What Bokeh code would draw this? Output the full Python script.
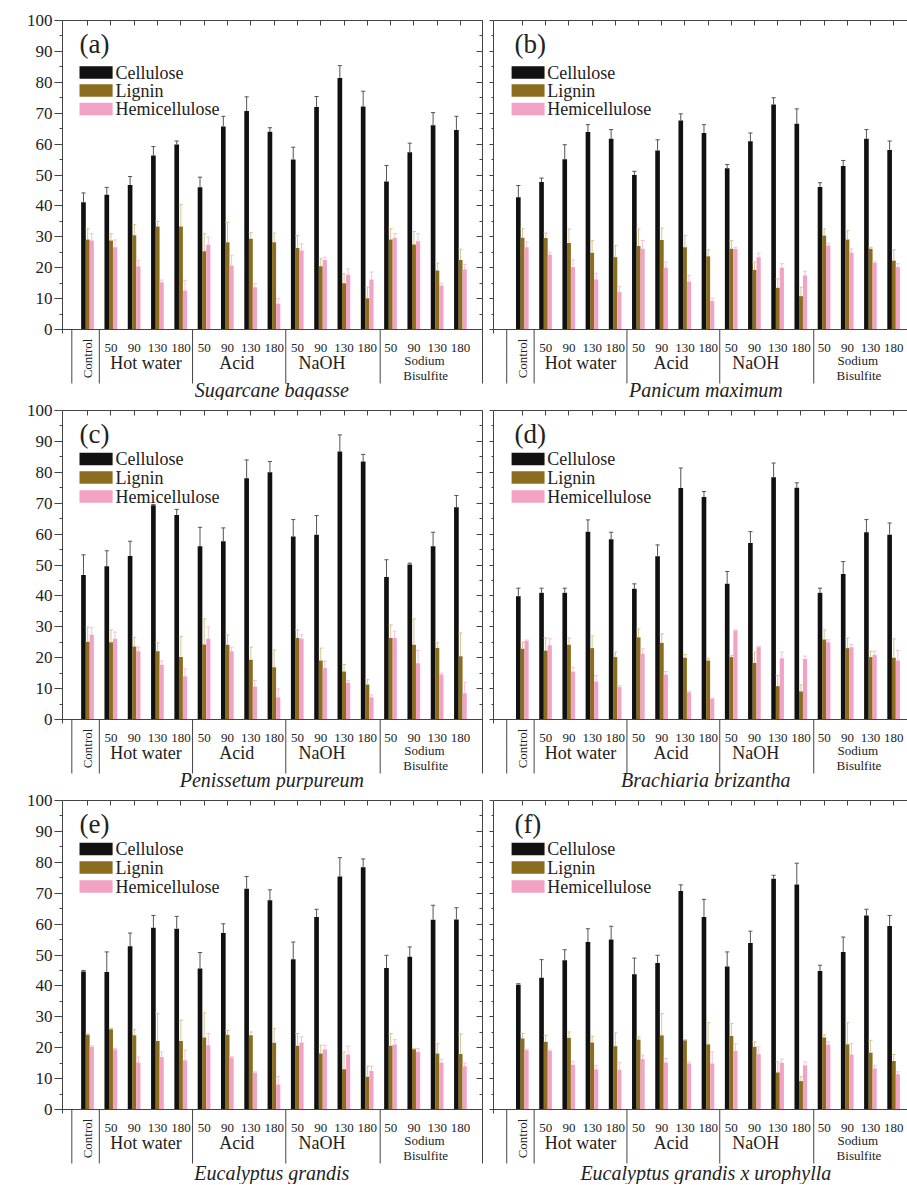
from math import pi
from bokeh.plotting import figure
from bokeh.layouts import gridplot
from bokeh.models import Range1d, LinearAxis, FixedTicker, Label, ColumnDataSource
from bokeh.transform import dodge
from bokeh.embed import file_html
from bokeh.resources import INLINE

# ---------------- data ----------------
GROUP_INDEX = list(range(17))
TEMPS = ["", "50", "90", "130", "180", "50", "90", "130", "180",
         "50", "90", "130", "180", "50", "90", "130", "180"]
TREATMENTS = ["Hot water", "Acid", "NaOH"]
TREATMENT_POS = [2.5, 6.4, 10.05]
SULFITE_LINES = ["Sodium", "Bisulfite"]
COMPONENTS = ["Cellulose", "Lignin", "Hemicellulose"]
SPECIES = ["Sugarcane bagasse", "Panicum maximum", "Penissetum purpureum",
           "Brachiaria brizantha", "Eucalyptus grandis", "Eucalyptus grandis x urophylla"]
TAGS = ["(a)", "(b)", "(c)", "(d)", "(e)", "(f)"]
Y_TICKS = list(range(0, 101, 10))
Y_MINOR = list(range(5, 100, 10))

# (a) Sugarcane bagasse
A_CELL = [41.2, 43.6, 46.8, 56.3, 59.9, 46.0, 65.7, 70.7, 64.0, 55.0, 72.0, 81.4, 72.2, 47.9, 57.4, 66.1, 64.6]
A_CELL_ERR = [3.0, 2.4, 2.7, 2.9, 1.1, 3.3, 3.3, 4.6, 1.3, 4.0, 3.4, 4.0, 4.9, 5.2, 2.9, 4.1, 4.4]
A_LIG = [29.1, 28.8, 30.5, 33.3, 33.3, 25.3, 28.2, 29.4, 28.2, 26.4, 20.5, 15.0, 10.1, 29.1, 27.5, 19.1, 22.5]
A_LIG_ERR = [3.5, 2.2, 3.5, 1.7, 7.2, 5.7, 6.5, 1.9, 3.0, 4.0, 2.4, 3.0, 3.6, 3.5, 4.2, 2.4, 3.5]
A_HEM = [28.8, 26.6, 20.5, 15.3, 12.6, 27.4, 20.7, 13.7, 8.3, 25.6, 22.5, 17.7, 16.2, 29.6, 28.6, 14.2, 19.5]
A_HEM_ERR = [2.2, 2.4, 1.8, 0.7, 3.3, 2.5, 3.3, 1.1, 1.7, 2.1, 0.9, 1.9, 2.4, 1.4, 2.4, 0.8, 1.5]

# (b) Panicum maximum
B_CELL = [42.8, 47.7, 55.1, 63.9, 61.7, 50.0, 57.9, 67.6, 63.6, 52.2, 60.9, 72.8, 66.6, 46.1, 52.9, 61.7, 58.1]
B_CELL_ERR = [3.8, 1.3, 4.7, 2.4, 3.0, 1.2, 3.5, 2.2, 2.7, 1.2, 2.7, 2.2, 4.8, 1.4, 1.8, 3.0, 2.9]
B_LIG = [29.7, 29.6, 28.0, 24.8, 23.4, 27.0, 29.0, 26.6, 23.7, 26.1, 19.3, 13.5, 10.8, 30.4, 29.1, 26.1, 22.3]
B_LIG_ERR = [2.9, 1.6, 4.5, 4.0, 3.8, 5.5, 3.8, 3.8, 2.1, 2.7, 2.5, 2.9, 2.9, 2.2, 2.9, 0.5, 3.5]
B_HEM = [26.6, 24.3, 20.2, 16.2, 12.1, 26.1, 20.0, 15.5, 9.2, 26.1, 23.4, 20.0, 17.5, 27.2, 24.8, 21.6, 20.2]
B_HEM_ERR = [1.7, 0.7, 2.3, 2.0, 1.8, 2.7, 1.8, 2.0, 0.9, 0.5, 1.3, 1.3, 1.4, 0.7, 1.3, 0.3, 1.1]

# (c) Penissetum purpureum
C_CELL = [46.8, 49.6, 52.9, 69.3, 66.2, 56.1, 57.7, 78.1, 80.0, 59.2, 59.8, 86.7, 83.5, 46.1, 50.2, 56.1, 68.7]
C_CELL_ERR = [6.5, 5.0, 4.8, 0.3, 1.8, 6.1, 4.3, 5.9, 3.5, 5.5, 6.2, 5.4, 2.3, 5.6, 0.4, 4.5, 3.8]
C_LIG = [25.2, 25.0, 23.6, 22.1, 20.2, 24.3, 24.2, 19.3, 16.9, 26.4, 19.1, 15.5, 11.3, 26.4, 24.2, 23.1, 20.5]
C_LIG_ERR = [4.7, 4.0, 3.0, 2.7, 6.7, 8.3, 3.2, 4.1, 5.6, 2.6, 4.0, 2.3, 1.6, 4.2, 8.4, 1.7, 7.5]
C_HEM = [27.4, 26.1, 22.1, 17.7, 14.0, 26.1, 22.1, 10.7, 7.2, 26.1, 16.7, 11.9, 7.2, 26.4, 18.2, 14.6, 8.5]
C_HEM_ERR = [2.3, 2.2, 1.3, 1.2, 2.4, 3.8, 1.3, 1.9, 2.7, 1.3, 2.2, 0.7, 0.8, 2.2, 4.1, 0.4, 3.5]

# (d) Brachiaria brizantha
D_CELL = [39.9, 41.0, 41.0, 60.8, 58.3, 42.3, 52.8, 74.9, 72.0, 43.9, 57.1, 78.4, 75.0, 41.0, 47.1, 60.6, 59.8]
D_CELL_ERR = [2.6, 1.5, 1.5, 3.8, 2.3, 1.6, 3.7, 6.5, 1.8, 4.0, 3.7, 4.6, 1.6, 1.5, 4.0, 4.1, 3.8]
D_LIG = [22.9, 22.3, 24.2, 23.1, 20.2, 26.6, 24.8, 20.0, 19.1, 20.2, 18.3, 10.8, 9.1, 25.9, 23.1, 20.2, 20.0]
D_LIG_ERR = [2.1, 4.1, 2.2, 3.9, 1.6, 2.7, 2.9, 1.0, 0.7, 0.5, 3.5, 3.4, 2.1, 3.1, 3.3, 1.9, 6.1]
D_HEM = [25.4, 24.0, 15.5, 12.3, 10.5, 21.3, 14.5, 8.8, 6.7, 28.8, 23.4, 19.8, 19.6, 25.0, 23.4, 20.9, 19.1]
D_HEM_ERR = [0.3, 2.1, 1.4, 1.9, 0.5, 1.6, 1.0, 0.2, 0.2, 0.2, 0.2, 2.0, 0.9, 0.8, 0.9, 1.2, 3.2]

# (e) Eucalyptus grandis
E_CELL = [44.7, 44.5, 52.8, 58.8, 58.5, 45.6, 57.1, 71.4, 67.7, 48.6, 62.3, 75.4, 78.4, 45.8, 49.4, 61.4, 61.5]
E_CELL_ERR = [0.3, 6.5, 4.3, 4.0, 4.0, 5.2, 3.0, 4.0, 3.4, 5.6, 2.5, 6.1, 2.7, 4.1, 3.2, 4.7, 3.8]
E_LIG = [24.2, 26.0, 24.0, 22.2, 22.2, 23.3, 24.2, 24.0, 21.6, 20.6, 18.1, 13.0, 10.6, 20.6, 19.5, 18.1, 18.0]
E_LIG_ERR = [0.3, 0.3, 1.9, 8.8, 6.7, 8.0, 1.4, 1.1, 4.6, 4.0, 2.7, 5.6, 3.4, 4.0, 0.3, 3.2, 6.5]
E_HEM = [20.3, 19.4, 15.2, 17.0, 15.9, 20.8, 16.8, 11.9, 8.1, 21.7, 19.4, 17.8, 12.5, 21.0, 18.6, 15.1, 14.0]
E_HEM_ERR = [0.3, 0.3, 1.8, 1.6, 3.3, 3.8, 0.3, 0.3, 2.5, 1.8, 1.4, 2.7, 1.5, 1.7, 1.1, 1.2, 1.0]

# (f) Eucalyptus grandis x urophylla
F_CELL = [40.4, 42.6, 48.3, 54.2, 55.0, 43.8, 47.4, 70.7, 62.3, 46.3, 53.9, 74.7, 72.8, 44.8, 51.0, 62.8, 59.4]
F_CELL_ERR = [0.3, 5.9, 3.4, 4.3, 4.3, 5.2, 2.5, 2.0, 5.7, 4.7, 3.8, 1.1, 6.9, 1.9, 4.8, 2.0, 3.4]
F_LIG = [23.0, 21.9, 23.2, 21.7, 20.5, 22.6, 24.0, 22.4, 21.1, 23.8, 20.3, 12.0, 9.2, 23.3, 21.1, 18.4, 15.7]
F_LIG_ERR = [1.6, 2.1, 1.9, 2.0, 4.3, 0.9, 7.0, 0.2, 7.0, 4.0, 1.6, 3.4, 1.4, 0.9, 7.0, 4.0, 2.1]
F_HEM = [19.2, 19.0, 14.5, 13.0, 12.9, 16.3, 15.2, 14.9, 14.9, 19.0, 17.9, 15.1, 14.3, 21.0, 17.8, 13.3, 11.4]
F_HEM_ERR = [0.3, 0.3, 1.1, 1.3, 2.3, 1.3, 1.3, 0.5, 3.7, 2.3, 2.4, 1.2, 1.1, 0.9, 3.5, 1.0, 0.8]

PANEL_DATA = [
    (A_CELL, A_CELL_ERR, A_LIG, A_LIG_ERR, A_HEM, A_HEM_ERR),
    (B_CELL, B_CELL_ERR, B_LIG, B_LIG_ERR, B_HEM, B_HEM_ERR),
    (C_CELL, C_CELL_ERR, C_LIG, C_LIG_ERR, C_HEM, C_HEM_ERR),
    (D_CELL, D_CELL_ERR, D_LIG, D_LIG_ERR, D_HEM, D_HEM_ERR),
    (E_CELL, E_CELL_ERR, E_LIG, E_LIG_ERR, E_HEM, E_HEM_ERR),
    (F_CELL, F_CELL_ERR, F_LIG, F_LIG_ERR, F_HEM, F_HEM_ERR),
]

# ---------------- style / layout ----------------
FONT = "Liberation Serif, DejaVu Serif, serif"
COLORS = ["#111111", "#8a6d1e", "#f2a2c4"]
ERR_COLORS = ["#555555", "#d8c690", "#f6c2d6"]
AXIS_COLOR = "#444444"
TEXT_COLOR = "#222222"
OFFS = [-0.18, 0.0, 0.175]
WIDTHS = [0.2, 0.17, 0.18]
CAP = 0.09

K = 3.09                      # px per y unit
ZERO_PX = 309                 # px from frame top (100) to 0
ROW_H = [400, 390, 394]
ROW_TOP = [20, 10, 10]
TITLE_PX = [60, 60, 63]
LEG_PX = [[52, 70, 88.5], [48.5, 67, 86], [48.5, 67, 86]]
COL_W = [487, 420]
COL_LEFT = [62, 6]
COL_RIGHT = [5, 0]
COL_X = [(-1.08, 16.94), (-1.25, 16.59)]
LEG_BOX_X = [0.36, 0.24]
LEG_TXT_X = [1.19, 1.07]
SEP_X = [-0.68, 0.5, 4.5, 8.5, 12.55]
SEP_PX = 54


def make_panel(i):
    row, col = divmod(i, 2)
    cell, cell_err, lig, lig_err, hem, hem_err = PANEL_DATA[i]
    height = ROW_H[row]
    below = height - ROW_TOP[row] - ZERO_PX
    y0 = -below / K

    p = figure(width=COL_W[col], height=height,
               x_range=Range1d(*COL_X[col]), y_range=Range1d(y0, 100),
               output_backend="svg", toolbar_location=None,
               x_axis_location=None, y_axis_location="left",
               min_border_left=COL_LEFT[col], min_border_right=COL_RIGHT[col],
               min_border_top=ROW_TOP[row], min_border_bottom=0)
    p.outline_line_color = None
    p.xgrid.visible = False
    p.ygrid.visible = False
    p.background_fill_color = "white"
    p.border_fill_color = "white"

    # left axis
    ya = p.yaxis[0]
    ya.ticker = FixedTicker(ticks=Y_TICKS, minor_ticks=Y_MINOR)
    ya.bounds = (-4 / K, 100)
    ya.axis_line_color = AXIS_COLOR
    ya.major_tick_line_color = AXIS_COLOR
    ya.minor_tick_line_color = AXIS_COLOR
    ya.major_tick_in = 0
    ya.minor_tick_in = 0
    if col == 0:
        ya.major_tick_out = 8
        ya.minor_tick_out = 3
        ya.major_label_text_font = FONT
        ya.major_label_text_font_size = "17px"
        ya.major_label_text_color = TEXT_COLOR
        ya.major_label_standoff = 2
        p.add_layout(Label(x=COL_X[0][0] - 42 / 23.3, y=50, x_units="data", y_units="data",
                           text="(%)", angle=pi / 2, text_align="center", text_baseline="middle",
                           text_font=FONT, text_font_size="16px", text_color=TEXT_COLOR))
    else:
        ya.major_tick_out = 4
        ya.minor_tick_out = 2
        ya.major_label_text_font_size = "0px"
        ya.major_label_standoff = 0
        ya.major_label_overrides = {t: "" for t in Y_TICKS}

    # top axis (ticks at group centers)
    top = LinearAxis(ticker=FixedTicker(ticks=GROUP_INDEX, minor_ticks=[]),
                     major_tick_in=5, major_tick_out=0, minor_tick_line_color=None,
                     axis_line_color=AXIS_COLOR, major_tick_line_color=AXIS_COLOR,
                     major_label_text_font_size="0px", major_label_standoff=0,
                     major_label_overrides={t: "" for t in GROUP_INDEX})
    p.add_layout(top, "above")

    # right axis (first column only; second column is cut off at page edge)
    if col == 0:
        ra = LinearAxis(ticker=FixedTicker(ticks=Y_TICKS, minor_ticks=Y_MINOR),
                        bounds=(-SEP_PX / K, 100),
                        major_tick_in=6, major_tick_out=0, minor_tick_in=3, minor_tick_out=0,
                        axis_line_color=AXIS_COLOR, major_tick_line_color=AXIS_COLOR,
                        minor_tick_line_color=AXIS_COLOR,
                        major_label_text_font_size="0px", major_label_standoff=0,
                        major_label_overrides={t: "" for t in Y_TICKS})
        p.add_layout(ra, "right")

    # bottom axis at y = 0 with temperature labels
    bx = LinearAxis(fixed_location=0, ticker=FixedTicker(ticks=GROUP_INDEX, minor_ticks=[]),
                    major_label_overrides={g: TEMPS[g] for g in GROUP_INDEX},
                    axis_line_color=AXIS_COLOR, major_tick_line_color=None,
                    minor_tick_line_color=None, major_label_standoff=8,
                    major_label_text_font=FONT, major_label_text_font_size="13px",
                    major_label_text_color=TEXT_COLOR)
    p.add_layout(bx, "below")

    # bars + error bars
    src = ColumnDataSource(dict(
        x=GROUP_INDEX,
        v0=cell, h0=[v + e for v, e in zip(cell, cell_err)],
        v1=lig, h1=[v + e for v, e in zip(lig, lig_err)],
        v2=hem, h2=[v + e for v, e in zip(hem, hem_err)],
    ))
    for k in range(3):
        p.vbar(x=dodge("x", OFFS[k]), top=f"v{k}", bottom=0, width=WIDTHS[k],
               fill_color=COLORS[k], line_color=None, source=src)
    for k in range(3):
        p.segment(x0=dodge("x", OFFS[k]), y0=f"v{k}", x1=dodge("x", OFFS[k]), y1=f"h{k}",
                  line_color=ERR_COLORS[k], line_width=1, source=src)
        p.segment(x0=dodge("x", OFFS[k] - CAP), y0=f"h{k}", x1=dodge("x", OFFS[k] + CAP),
                  y1=f"h{k}", line_color=ERR_COLORS[k], line_width=1, source=src)

    # separators below the axis
    p.segment(x0=SEP_X, y0=[0] * len(SEP_X), x1=SEP_X, y1=[-SEP_PX / K] * len(SEP_X),
              line_color=AXIS_COLOR, line_width=1)

    # category labels
    p.text(x=TREATMENT_POS, y=[-33 / K] * 3, text=TREATMENTS,
           text_font={"value": FONT}, text_font_size="18px", text_color=TEXT_COLOR,
           text_align="center", text_baseline="middle")
    p.text(x=[14.45, 14.5], y=[-31 / K, -46 / K], text=SULFITE_LINES,
           text_font={"value": FONT}, text_font_size="13px", text_color=TEXT_COLOR,
           text_align="center", text_baseline="middle")
    p.text(x=[0], y=[-29 / K], text=["Control"], angle=pi / 2,
           text_font={"value": FONT}, text_font_size="13px", text_color=TEXT_COLOR,
           text_align="center", text_baseline="middle")
    p.text(x=[7.9], y=[-TITLE_PX[row] / K], text=[SPECIES[i]],
           text_font={"value": FONT}, text_font_size="20px", text_font_style="italic",
           text_color=TEXT_COLOR, text_align="center", text_baseline="middle")

    # panel tag
    p.text(x=[-0.35], y=[100 - 23 / K], text=[TAGS[i]],
           text_font={"value": FONT}, text_font_size="27px", text_color=TEXT_COLOR,
           text_align="left", text_baseline="middle")

    # legend
    ly = [100 - v / K for v in LEG_PX[row]]
    p.rect(x=[LEG_BOX_X[col]] * 3, y=ly, width=1.42, height=12.5 / K,
           fill_color=COLORS, line_color=None)
    p.text(x=[LEG_TXT_X[col]] * 3, y=ly, text=COMPONENTS,
           text_font={"value": FONT}, text_font_size="18px", text_color=TEXT_COLOR,
           text_align="left", text_baseline="middle")
    return p


panels = [make_panel(i) for i in range(6)]
grid = gridplot([[panels[0], panels[1]], [panels[2], panels[3]], [panels[4], panels[5]]],
                toolbar_location=None)

open("out.html", "w").write(file_html(grid, INLINE))
